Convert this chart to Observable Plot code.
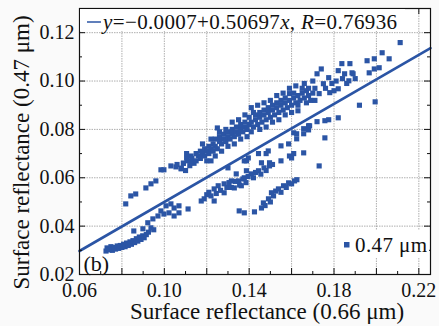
<!DOCTYPE html>
<html><head><meta charset="utf-8">
<script src="https://cdn.jsdelivr.net/npm/d3@7"></script>
<script src="https://cdn.jsdelivr.net/npm/@observablehq/plot@0.6"></script>
<style>
body{margin:0;background:#fafafa;}
#chart svg{display:block;}
</style></head><body><div id="chart"></div>
<script>
// Axis ticks
const xTickLabels = [0.06, 0.10, 0.14, 0.18, 0.22];
const yTickLabels = [0.02, 0.04, 0.06, 0.08, 0.10, 0.12];
const xGrid = [0.06, 0.08, 0.10, 0.12, 0.14, 0.16, 0.18, 0.20, 0.22];
const yGrid = [0.02, 0.04, 0.06, 0.08, 0.10, 0.12];
const xMinor = [0.07, 0.09, 0.11, 0.13, 0.15, 0.17, 0.19, 0.21];
const yMinor = [0.03, 0.05, 0.07, 0.09, 0.11];

// Regression
const intercept = -0.0007, slope = 0.50697, rValue = 0.76936;
const fitX = [0.06, 0.2255];

// Scatter points (x: 0.66 um, y: 0.47 um)
const lowerTail = [
 [0.0725,0.0297],[0.0730,0.0310],[0.0740,0.0302],[0.0748,0.0315],[0.0755,0.0300],[0.0762,0.0312],
 [0.0770,0.0305],[0.0778,0.0318],[0.0785,0.0308],[0.0792,0.0320],[0.0800,0.0312],[0.0808,0.0325],
 [0.0815,0.0315],[0.0822,0.0330],[0.0830,0.0320],[0.0838,0.0335],[0.0845,0.0325],[0.0852,0.0340],
 [0.0860,0.0332],[0.0868,0.0348],[0.0875,0.0338],[0.0882,0.0355],[0.0890,0.0345],[0.0898,0.0360],
 [0.0905,0.0352],[0.0856,0.0380],[0.0899,0.0389],[0.0915,0.0365],[0.0925,0.0375],[0.0950,0.0385],
 [0.0937,0.0393],[0.0922,0.0414],[0.0946,0.0430],[0.0970,0.0442],[0.0984,0.0463],[0.0998,0.0450],
 [0.1022,0.0455],[0.1046,0.0475],[0.1046,0.0442],[0.1069,0.0455],[0.1069,0.0484],[0.1112,0.0471],
 [0.1008,0.0484],[0.1031,0.0492]
];
const leftBranch = [
 [0.0818,0.0492],[0.0842,0.0525],[0.0865,0.0533],[0.0913,0.0558],[0.0937,0.0575],[0.0960,0.0587],
 [0.0984,0.0633],[0.0998,0.0633],[0.1031,0.0649],[0.1055,0.0645],[0.1060,0.0655],[0.1079,0.0637],
 [0.1090,0.0660],[0.1105,0.0681],[0.1105,0.0700],[0.1126,0.0690]
];
const upperBand = [
 [0.108,0.064],[0.109,0.066],[0.110,0.063],[0.111,0.067],[0.112,0.065],[0.113,0.068],[0.114,0.066],
 [0.115,0.070],[0.115,0.067],[0.116,0.069],[0.117,0.071],[0.117,0.068],[0.118,0.070],[0.119,0.072],
 [0.119,0.069],[0.120,0.071],[0.121,0.073],[0.121,0.070],[0.122,0.072],[0.123,0.074],[0.123,0.071],
 [0.124,0.076],[0.124,0.073],[0.125,0.072],[0.125,0.0806],[0.126,0.075],[0.126,0.077],[0.127,0.074],
 [0.128,0.076],[0.128,0.078],[0.129,0.075],[0.130,0.077],[0.130,0.079],[0.131,0.076],[0.132,0.078],
 [0.132,0.080],[0.133,0.077],[0.134,0.079],[0.134,0.081],[0.135,0.078],[0.136,0.080],[0.136,0.082],
 [0.137,0.079],[0.138,0.081],[0.138,0.083],[0.139,0.080],[0.140,0.082],[0.140,0.085],[0.141,0.089],
 [0.141,0.083],[0.142,0.081],[0.143,0.084],[0.143,0.086],[0.144,0.082],[0.145,0.085],[0.145,0.087],
 [0.146,0.083],[0.147,0.086],[0.147,0.088],[0.148,0.084],[0.149,0.087],[0.149,0.089],[0.150,0.085],
 [0.151,0.088],[0.151,0.090],[0.152,0.086],[0.153,0.089],[0.153,0.091],[0.154,0.087],[0.155,0.090],
 [0.155,0.092],[0.156,0.088],[0.157,0.091],[0.157,0.093],[0.158,0.089],[0.159,0.092],[0.159,0.0948],
 [0.160,0.090],[0.161,0.093],[0.161,0.095],[0.162,0.091],[0.163,0.094],[0.163,0.0877],[0.164,0.092],
 [0.165,0.095],[0.165,0.097],[0.166,0.093],[0.167,0.096],[0.168,0.097],[0.168,0.094],[0.169,0.092],
 [0.170,0.095],[0.171,0.097],[0.172,0.103],[0.173,0.0948],[0.174,0.105],[0.175,0.0989],[0.1775,0.1014],
 [0.178,0.0952],[0.179,0.099],[0.180,0.096],[0.182,0.1043],[0.182,0.0968],[0.1837,0.1072],[0.185,0.103],
 [0.1875,0.1072],[0.1885,0.1034],[0.187,0.1001],[0.189,0.103],[0.190,0.101],[0.186,0.099],[0.184,0.101],
 [0.181,0.100],[0.176,0.097]
];
const upperBandEdges = [
 [0.118,0.074],[0.120,0.067],[0.122,0.076],[0.124,0.069],[0.126,0.079],[0.127,0.071],[0.129,0.080],
 [0.130,0.073],[0.132,0.083],[0.133,0.074],[0.135,0.084],[0.136,0.076],[0.138,0.086],[0.139,0.077],
 [0.141,0.079],[0.142,0.087],[0.144,0.090],[0.145,0.080],[0.147,0.091],[0.148,0.081],[0.150,0.092],
 [0.151,0.083],[0.153,0.094],[0.154,0.084],[0.156,0.095],[0.157,0.086],[0.159,0.097],[0.160,0.087],
 [0.162,0.098],[0.163,0.090],[0.166,0.099],[0.167,0.091],[0.170,0.100],[0.171,0.092]
];
const topOutliers = [
 [0.1956,0.1084],[0.1990,0.1092],[0.1966,0.1034],[0.1990,0.1050],[0.2013,0.1055],[0.2027,0.1117],
 [0.2060,0.1092],[0.2112,0.1159],[0.1920,0.0900],[0.1994,0.0914]
];
const midBand = [
 [0.1126,0.0662],[0.1220,0.0670],[0.1300,0.0641],[0.1339,0.0616],[0.1387,0.0629],[0.1387,0.0670],
 [0.1377,0.0670],[0.1396,0.0682],[0.1444,0.0700],[0.1480,0.0700],[0.1490,0.0711],[0.1458,0.0662],
 [0.1496,0.0662],[0.1550,0.0670],[0.1590,0.0690],[0.1610,0.0700],[0.1600,0.0682],[0.1657,0.0703],
 [0.1730,0.0649],[0.1550,0.0732],[0.1586,0.0740],[0.1624,0.0761],[0.1610,0.0786],[0.1657,0.0803],
 [0.1680,0.0815],[0.1820,0.0848],[0.1775,0.0840],[0.1757,0.0836],[0.1720,0.0832],[0.1685,0.0815],
 [0.1680,0.0798],[0.1624,0.0782],[0.1657,0.0782],[0.1757,0.0765]
];
const lowerBand = [
 [0.1174,0.0504],[0.1188,0.0513],[0.1200,0.0530],[0.1210,0.0540],[0.1220,0.0525],[0.1235,0.0554],
 [0.1235,0.0504],[0.1245,0.0535],[0.1254,0.0567],[0.1265,0.0548],[0.1282,0.0575],[0.1282,0.0538],
 [0.1295,0.0560],[0.1305,0.0580],[0.1316,0.0587],[0.1316,0.0560],[0.1330,0.0558],[0.1335,0.0585],
 [0.1350,0.0587],[0.1355,0.0570],[0.1363,0.0567],[0.1370,0.0595],[0.1377,0.0600],[0.1385,0.0580],
 [0.1395,0.0605],[0.1410,0.0616],[0.1420,0.0600],[0.1430,0.0622],[0.1444,0.0629],[0.1455,0.0615],
 [0.1470,0.0641],[0.1480,0.0630],[0.1496,0.0649],[0.1510,0.0655]
];
const bottomBand = [
 [0.1353,0.0463],[0.1377,0.0455],[0.1425,0.0459],[0.1458,0.0475],[0.1467,0.0496],[0.1475,0.0485],
 [0.1491,0.0513],[0.1500,0.0500],[0.1505,0.0538],[0.1515,0.0525],[0.1525,0.0545],[0.1538,0.0554],
 [0.1550,0.0540],[0.1562,0.0567],[0.1575,0.0560],[0.1586,0.0579],[0.1600,0.0575],[0.1614,0.0587],
 [0.1625,0.0592]
];

const points = [...lowerTail, ...leftBranch, ...upperBand, ...upperBandEdges, ...topOutliers, ...midBand, ...lowerBand, ...bottomBand];
const fitLine = fitX.map(x => [x, intercept + slope * x]);

const blue = "#2b55a5";
const W = 439, H = 326, mL = 79, mR = 9, mT = 8, mB = 52;
const fh = H - mT - mB, fw = W - mL - mR;
const serif = "'Liberation Serif', 'DejaVu Serif', serif";

const chart = Plot.plot({
  width: W, height: H,
  marginLeft: mL, marginRight: mR, marginTop: mT, marginBottom: mB,
  style: {fontFamily: serif, fontSize: "20px", background: "#fafafa", color: "#111"},
  x: {domain: [0.06, 0.2255]},
  y: {domain: [0.02, 0.13]},
  marks: [
    Plot.frame({fill: "white", stroke: null}),
    Plot.ruleX(xGrid, {x: d => d, stroke: "#9a9a9a", strokeWidth: 0.8, strokeDasharray: "1.5,1"}),
    Plot.ruleY(yGrid, {y: d => d, stroke: "#9a9a9a", strokeWidth: 0.8, strokeDasharray: "1.5,1"}),
    Plot.dot(points, {x: d => d[0], y: d => d[1], symbol: "square", r: 2.9, fill: blue, stroke: null}),
    Plot.line(fitLine, {x: d => d[0], y: d => d[1], stroke: blue, strokeWidth: 2.6}),
    Plot.tickX(xGrid, {x: d => d, insetTop: fh - 6, stroke: "#111"}),
    Plot.tickX(xMinor, {x: d => d, insetTop: fh - 3, stroke: "#111"}),
    Plot.tickX(xGrid, {x: d => d, insetBottom: fh - 6, stroke: "#111"}),
    Plot.tickX(xMinor, {x: d => d, insetBottom: fh - 3, stroke: "#111"}),
    Plot.tickY(yGrid, {y: d => d, insetRight: fw - 6, stroke: "#111"}),
    Plot.tickY(yMinor, {y: d => d, insetRight: fw - 3, stroke: "#111"}),
    Plot.tickY(yGrid, {y: d => d, insetLeft: fw - 6, stroke: "#111"}),
    Plot.tickY(yMinor, {y: d => d, insetLeft: fw - 3, stroke: "#111"}),
    Plot.axisX(xTickLabels, {tickSize: 0, tickPadding: 8, tickFormat: d3.format(".2f"), label: null, fontSize: 20}),
    Plot.axisY(yTickLabels, {tickSize: 0, tickPadding: 5, tickFormat: d3.format(".2f"), label: null, fontSize: 20}),
    Plot.text(["Surface reflectance (0.66 μm)"], {frameAnchor: "bottom", lineAnchor: "middle", textAnchor: "middle", dy: 37, dx: 12, fontSize: 23, text: d => d}),
    Plot.text(["Surface reflectance (0.47 μm)"], {frameAnchor: "left", lineAnchor: "middle", textAnchor: "middle", dx: -58, dy: 11, rotate: -90, fontSize: 23, text: d => d}),
    Plot.text(["(b)"], {frameAnchor: "bottom-left", lineAnchor: "middle", textAnchor: "start", dx: 4, dy: -11, fontSize: 22, text: d => d}),
    Plot.frame({stroke: "#111", strokeWidth: 1.2})
  ]
});
document.getElementById("chart").appendChild(chart);

// Legends (white boxes, mixed italic text)
const svgSel = d3.select(chart);
const legTop = svgSel.append("g");
legTop.append("rect").attr("x", mL + 1).attr("y", mT + 1).attr("width", 325).attr("height", 22).attr("fill", "white");
legTop.append("line").attr("x1", 87).attr("x2", 101).attr("y1", 22).attr("y2", 22).attr("stroke", blue).attr("stroke-width", 1.5);
const legText = legTop.append("text").attr("x", 103).attr("y", 29).attr("text-anchor", "start")
  .attr("font-family", serif).attr("font-size", 21).attr("fill", "#111")
  .attr("textLength", 294).attr("lengthAdjust", "spacing");
legText.append("tspan").attr("font-style", "italic").text("y");
legText.append("tspan").text("=−" + "0.0007" + "+" + "0.50697");
legText.append("tspan").attr("font-style", "italic").text("x");
legText.append("tspan").text(", ");
legText.append("tspan").attr("font-style", "italic").text("R");
legText.append("tspan").text("=" + String(rValue));

const legBot = svgSel.append("g");
legBot.append("rect").attr("x", 336).attr("y", 230).attr("width", 93).attr("height", 28).attr("fill", "white");
legBot.append("rect").attr("x", 344).attr("y", 242).attr("width", 5.5).attr("height", 5.5).attr("fill", blue);
legBot.append("text").attr("x", 355).attr("y", 252).attr("text-anchor", "start")
  .attr("font-family", serif).attr("font-size", 21).attr("fill", "#111")
  .attr("textLength", 72).attr("lengthAdjust", "spacing").text("0.47 μm");
</script>
</body></html>
